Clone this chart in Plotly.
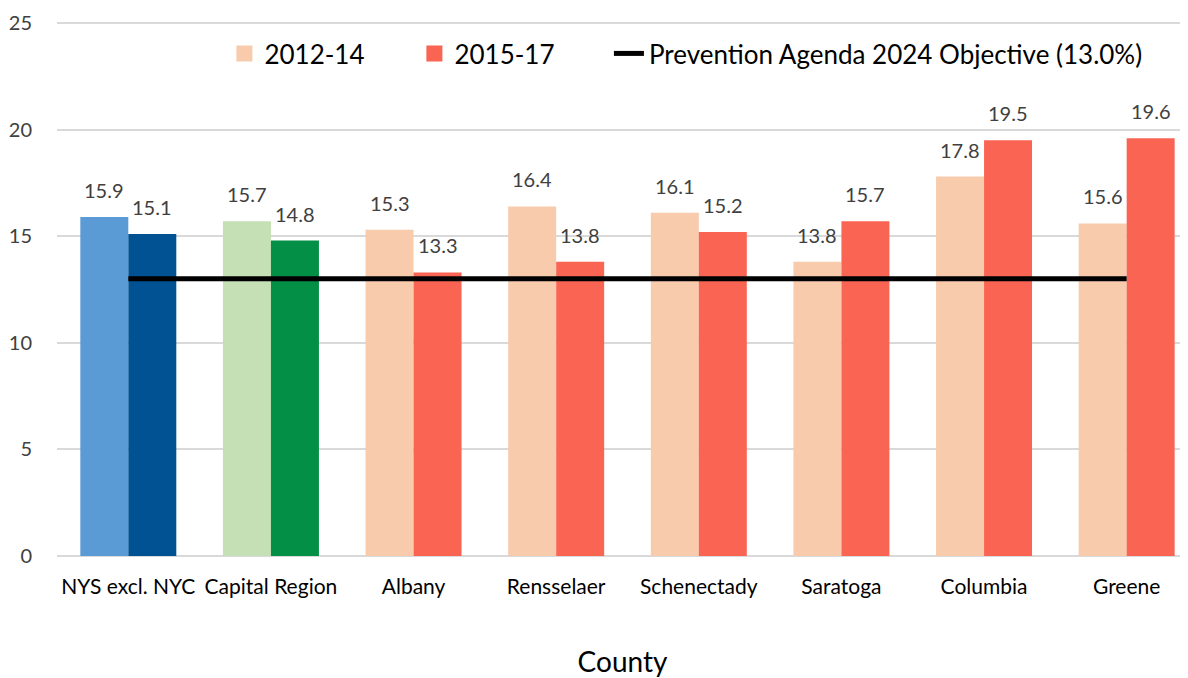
import plotly.graph_objects as go

categories = ["NYS excl. NYC", "Capital Region", "Albany", "Rensselaer",
              "Schenectady", "Saratoga", "Columbia", "Greene"]
values_2012_14 = [15.9, 15.7, 15.3, 16.4, 16.1, 13.8, 17.8, 15.6]
values_2015_17 = [15.1, 14.8, 13.3, 13.8, 15.2, 15.7, 19.5, 19.6]
objective = [13.0] * len(categories)

colors_2012_14 = ["#5B9BD5", "#C5E0B4"] + ["#F8CBAD"] * 6
colors_2015_17 = ["#005293", "#038F45"] + ["#FA6553"] * 6

FONT = "Lato, 'Open Sans', sans-serif"
label_font = dict(family=FONT, size=20, color="#404040")

fig = go.Figure()
fig.add_trace(go.Bar(
    x=categories, y=values_2012_14, name="2012-14",
    marker=dict(color=colors_2012_14, line=dict(width=0)), showlegend=False))
fig.add_trace(go.Bar(
    x=categories, y=values_2015_17, name="2015-17",
    marker=dict(color=colors_2015_17, line=dict(width=0)), showlegend=False))
# legend entries (no data drawn)
fig.add_trace(go.Scatter(x=[None], y=[None], name="2012-14", mode="markers",
                         marker=dict(color="#F8CBAD", symbol="square", size=18)))
fig.add_trace(go.Scatter(x=[None], y=[None], name="2015-17", mode="markers",
                         marker=dict(color="#FA6553", symbol="square", size=18)))
fig.add_trace(go.Scatter(
    x=categories, y=objective, mode="lines",
    name="Prevention Agenda 2024 Objective (13.0%)",
    line=dict(color="black", width=5), legend="legend2"))

# data labels above each bar
for series, shift in ((values_2012_14, -24), (values_2015_17, 24)):
    for cat, v in zip(categories, series):
        fig.add_annotation(x=cat, y=v, text=f"{v:.1f}", showarrow=False,
                           xshift=shift, yanchor="bottom", yshift=13,
                           font=label_font)

legend_font = dict(family=FONT, size=26, color="black")
fig.update_layout(
    width=1180, height=670,
    margin=dict(l=49, r=0, t=14, b=122, autoexpand=False),
    plot_bgcolor="white", paper_bgcolor="white",
    barmode="group", bargap=0.327, bargroupgap=0,
    font=dict(family=FONT, color="#404040"),
    legend=dict(orientation="h", x=0.148, y=0.941, xanchor="left",
                yanchor="middle", font=legend_font,
                bgcolor="rgba(0,0,0,0)", traceorder="normal", entrywidth=145),
    legend2=dict(orientation="h", x=0.488, y=0.941, xanchor="left",
                 yanchor="middle", font=legend_font, bgcolor="rgba(0,0,0,0)"),
    xaxis=dict(range=[-0.5, 7.43], tickfont=dict(family=FONT, size=21, color="black"),
               showgrid=False, zeroline=False, showline=False, ticks="",
               ticklabelstandoff=16, automargin=False,
               title=dict(text="County", font=dict(family=FONT, size=28, color="black"),
                          standoff=62)),
    yaxis=dict(range=[0, 25.05], tickvals=[0, 5, 10, 15, 20, 25],
               tickfont=dict(family=FONT, size=20, color="#404040"),
               ticklabeloverflow="allow", automargin=False,
               showgrid=True, gridcolor="#D9D9D9", gridwidth=1.5,
               zeroline=True, zerolinecolor="#D9D9D9", zerolinewidth=1.5,
               showline=False, ticks="", ticklabelstandoff=24),
)

fig.write_html("out.html")
